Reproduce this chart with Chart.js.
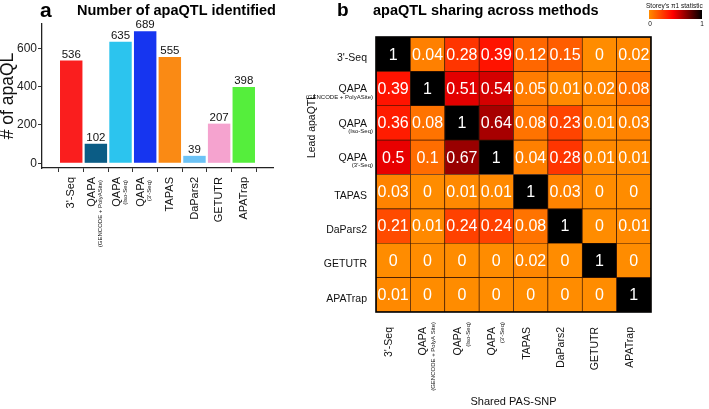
<!DOCTYPE html>
<html><head><meta charset="utf-8">
<script src="https://cdn.jsdelivr.net/npm/chart.js@4.4.1/dist/chart.umd.min.js"></script>
<style>
html,body{margin:0;padding:0;background:#fff;width:709px;height:409px;overflow:hidden}
#wa{position:absolute;left:0;top:0;width:345px;height:409px}
#wb{position:absolute;left:280px;top:0;width:429px;height:409px}
</style></head><body>
<div id="wa"><canvas id="ca"></canvas></div>
<div id="wb"><canvas id="cb"></canvas></div>
<script>
// ---- data ----
const methodNames = ["3'-Seq", "QAPA", "QAPA", "QAPA", "TAPAS", "DaPars2", "GETUTR", "APATrap"];
const methodSubsA = ["", "(GENCODE + PolyASite)", "(Iso-Seq)", "(3'-Seq)", "", "", "", ""];
const methodSubsCol = ["", "(GENCODE + PolyA Site)", "(Iso-Seq)", "(3'-Seq)", "", "", "", ""];
const methodSubsRow = ["", "(GENCODE + PolyASite)", "(Iso-Seq)", "(3'-Seq)", "", "", "", ""];
const apaqtlCounts = [536, 102, 635, 689, 555, 39, 207, 398];
const barColors = ["#FA1E1E", "#0B5C85", "#2CC4EE", "#1635F0", "#FA8A14", "#6CC2F5", "#F5A3CF", "#55EE3C"];
const countTicks = [0, 200, 400, 600];
const sharing = [
  [1, 0.04, 0.28, 0.39, 0.12, 0.15, 0, 0.02],
  [0.39, 1, 0.51, 0.54, 0.05, 0.01, 0.02, 0.08],
  [0.36, 0.08, 1, 0.64, 0.08, 0.23, 0.01, 0.03],
  [0.5, 0.1, 0.67, 1, 0.04, 0.28, 0.01, 0.01],
  [0.03, 0, 0.01, 0.01, 1, 0.03, 0, 0],
  [0.21, 0.01, 0.24, 0.24, 0.08, 1, 0, 0.01],
  [0, 0, 0, 0, 0.02, 0, 1, 0],
  [0.01, 0, 0, 0, 0, 0, 0, 1]
];
const scaleStops = ["#FF8C00", "#FF0000", "#000000"];
const scaleStopPos = [0, 0.45, 1];

const FAM = "'Liberation Sans', Arial, Helvetica, sans-serif";

function hexRgb(h){return [parseInt(h.slice(1,3),16),parseInt(h.slice(3,5),16),parseInt(h.slice(5,7),16)];}
function heatColor(v){
  v = Math.min(Math.max(v,0),1);
  let i = 0;
  while (i < scaleStopPos.length - 2 && v > scaleStopPos[i+1]) i++;
  const t = (v - scaleStopPos[i]) / (scaleStopPos[i+1] - scaleStopPos[i]);
  const a = hexRgb(scaleStops[i]), b = hexRgb(scaleStops[i+1]);
  const c = a.map((x,k)=>Math.round(x + (b[k]-x)*t));
  return `rgb(${c[0]},${c[1]},${c[2]})`;
}

// ---- panel a ----
const panelA = {
  id: 'panelA',
  afterDatasetsDraw(chart){
    const ctx = chart.ctx;
    const meta = chart.getDatasetMeta(0);
    ctx.save();
    ctx.fillStyle = '#111';
    ctx.font = `11.5px ${FAM}`;
    ctx.textAlign = 'center';
    ctx.textBaseline = 'alphabetic';
    meta.data.forEach((el,i)=>{ ctx.fillText(String(apaqtlCounts[i]), el.x, el.y - 3); });
    // x labels
    const xs = chart.scales.x;
    methodNames.forEach((name,i)=>{
      const px = xs.getPixelForValue(i);
      const sub = methodSubsA[i];
      ctx.save();
      ctx.translate(px, 177);
      ctx.rotate(-Math.PI/2);
      ctx.textAlign = 'right';
      ctx.textBaseline = 'middle';
      ctx.fillStyle = '#111';
      ctx.font = `11px ${FAM}`;
      if (sub) {
        ctx.fillText(name, 0, -4);
        ctx.font = `6px ${FAM}`;
        ctx.fillText(sub, -3, 4.5);
      } else {
        ctx.fillText(name, 0, 0);
      }
      ctx.restore();
    });
    // panel letter and title
    ctx.fillStyle = '#000';
    ctx.textAlign = 'left';
    ctx.textBaseline = 'alphabetic';
    ctx.font = `bold 21px ${FAM}`;
    ctx.fillText('a', 40, 16.7);
    ctx.font = `bold 14.5px ${FAM}`;
    ctx.fillText('Number of apaQTL identified', 77, 15.4);
    ctx.restore();
  }
};

new Chart(document.getElementById('ca'), {
  type: 'bar',
  data: {
    datasets: [{
      data: apaqtlCounts.map((v,i)=>({x:i, y:v})),
      backgroundColor: barColors,
      borderWidth: 0,
      barPercentage: 0.91,
      categoryPercentage: 1.0
    }]
  },
  options: {
    responsive: true, maintainAspectRatio: false, animation: false,
    layout: {padding: {left: 0, right: 72, top: 24, bottom: 0}},
    plugins: {legend: {display: false}, tooltip: {enabled: false}},
    scales: {
      x: {
        type: 'linear', min: -0.6, max: 7.6,
        afterBuildTicks: s => { s.ticks = methodNames.map((_,i)=>({value:i})); },
        ticks: {display: false},
        grid: {drawOnChartArea: false, drawTicks: true, tickLength: 4, color: '#333', lineWidth: 1},
        border: {display: true, color: '#222', width: 1.3},
        afterFit: s => { s.height = 409 - 168; }
      },
      y: {
        min: -24.5, max: 727,
        afterBuildTicks: s => { s.ticks = countTicks.map(v=>({value:v})); },
        ticks: {font: {size: 12, family: FAM}, color: '#222', padding: 1},
        grid: {drawOnChartArea: false, drawTicks: true, tickLength: 4, color: '#333', lineWidth: 1},
        border: {display: true, color: '#222', width: 1.3},
        title: {display: true, text: '# of apaQL', font: {size: 17.5, family: FAM, lineHeight: 1}, color: '#111', padding: {top: -1, bottom: 0}},
        afterFit: s => { s.width = 42; }
      }
    }
  },
  plugins: [panelA]
});

// ---- panel b ----
const OFF = 280;
const panelB = {
  id: 'panelB',
  afterDatasetsDraw(chart){
    const ctx = chart.ctx;
    const ca = chart.chartArea;
    ctx.save();
    // cell texts
    ctx.fillStyle = '#fff';
    ctx.font = `16px ${FAM}`;
    ctx.textAlign = 'center';
    ctx.textBaseline = 'middle';
    chart.data.datasets.forEach((ds, k)=>{
      const meta = chart.getDatasetMeta(k);
      const r = ds.rowIndex;
      meta.data.forEach((el, c)=>{
        ctx.fillText(String(sharing[r][c]), el.x, (el.y + el.base)/2 + 1);
      });
    });
    // outer border
    ctx.strokeStyle = '#000';
    ctx.lineWidth = 1.6;
    ctx.strokeRect(ca.left, ca.top, ca.right - ca.left, ca.bottom - ca.top);
    // row labels
    ctx.fillStyle = '#111';
    chart.data.datasets.forEach((ds, k)=>{
      const meta = chart.getDatasetMeta(k);
      const el = meta.data[0];
      const cy = (el.y + el.base)/2;
      const r = ds.rowIndex;
      ctx.textAlign = 'right';
      ctx.textBaseline = 'middle';
      ctx.font = `10.5px ${FAM}`;
      if (methodSubsRow[r]) {
        ctx.fillText(methodNames[r], 367 - OFF, cy + 1);
        ctx.font = `6px ${FAM}`;
        ctx.fillText(methodSubsRow[r], 373 - OFF, cy + 8.5);
      } else {
        ctx.fillText(methodNames[r], 367 - OFF, cy + 4);
      }
    });
    // column labels
    const xs = chart.scales.x;
    methodNames.forEach((name, i)=>{
      const px = xs.getPixelForValue(i);
      const sub = methodSubsCol[i];
      ctx.save();
      ctx.translate(px, 0);
      ctx.rotate(-Math.PI/2);
      ctx.textAlign = 'right';
      ctx.textBaseline = 'middle';
      ctx.font = `10.5px ${FAM}`;
      ctx.fillText(name, -327, -4);
      if (sub) {
        ctx.font = `6px ${FAM}`;
        ctx.fillText(sub, -322, 6);
      }
      ctx.restore();
    });
    // axis titles
    ctx.font = `11px ${FAM}`;
    ctx.textAlign = 'center';
    ctx.textBaseline = 'alphabetic';
    ctx.fillText('Shared PAS-SNP', (ca.left + ca.right)/2, 405);
    ctx.save();
    ctx.translate(312 - OFF, 126);
    ctx.rotate(-Math.PI/2);
    ctx.textBaseline = 'middle';
    ctx.font = `10.5px ${FAM}`;
    ctx.fillText('Lead apaQTL', 0, 0);
    ctx.restore();
    // panel letter and title
    ctx.fillStyle = '#000';
    ctx.textAlign = 'left';
    ctx.textBaseline = 'alphabetic';
    ctx.font = `bold 19px ${FAM}`;
    ctx.fillText('b', 337 - OFF, 15.5);
    ctx.font = `bold 14.5px ${FAM}`;
    ctx.fillText('apaQTL sharing across methods', 373 - OFF, 15.4);
    // colour bar legend
    const gx0 = 649 - OFF, gx1 = 702 - OFF;
    const g = ctx.createLinearGradient(gx0, 0, gx1, 0);
    scaleStops.forEach((c, i)=> g.addColorStop(scaleStopPos[i], c));
    ctx.fillStyle = g;
    ctx.fillRect(gx0, 10, gx1 - gx0, 9);
    ctx.fillStyle = '#111';
    ctx.font = `6.5px ${FAM}`;
    ctx.textAlign = 'left';
    ctx.fillText("Storey's \u03C01 statistic", 646 - OFF, 7.5);
    ctx.textAlign = 'center';
    ctx.fillText('0', gx0 + 1, 26);
    ctx.fillText('1', gx1, 26);
    ctx.restore();
  }
};

const heatDatasets = sharing.map((row, r)=>({
  rowIndex: r,
  data: row.map(()=>1),
  backgroundColor: row.map(v=>heatColor(v)),
  borderColor: '#3a1500',
  borderWidth: 0.7,
  borderSkipped: false,
  barPercentage: 1.0,
  categoryPercentage: 1.0
})).reverse();

new Chart(document.getElementById('cb'), {
  type: 'bar',
  data: {labels: methodNames.map((n,i)=>n + ' ' + methodSubsCol[i]), datasets: heatDatasets},
  options: {
    responsive: true, maintainAspectRatio: false, animation: false,
    layout: {padding: {left: 0, right: 58, top: 37, bottom: 0}},
    plugins: {legend: {display: false}, tooltip: {enabled: false}},
    scales: {
      x: {
        stacked: true,
        ticks: {display: false},
        grid: {display: false},
        border: {display: false},
        afterFit: s => { s.height = 409 - 312; }
      },
      y: {
        stacked: true, min: 0, max: sharing.length,
        ticks: {display: false},
        grid: {display: false},
        border: {display: false},
        afterFit: s => { s.width = 376 - OFF; }
      }
    }
  },
  plugins: [panelB]
});
</script>
</body></html>
